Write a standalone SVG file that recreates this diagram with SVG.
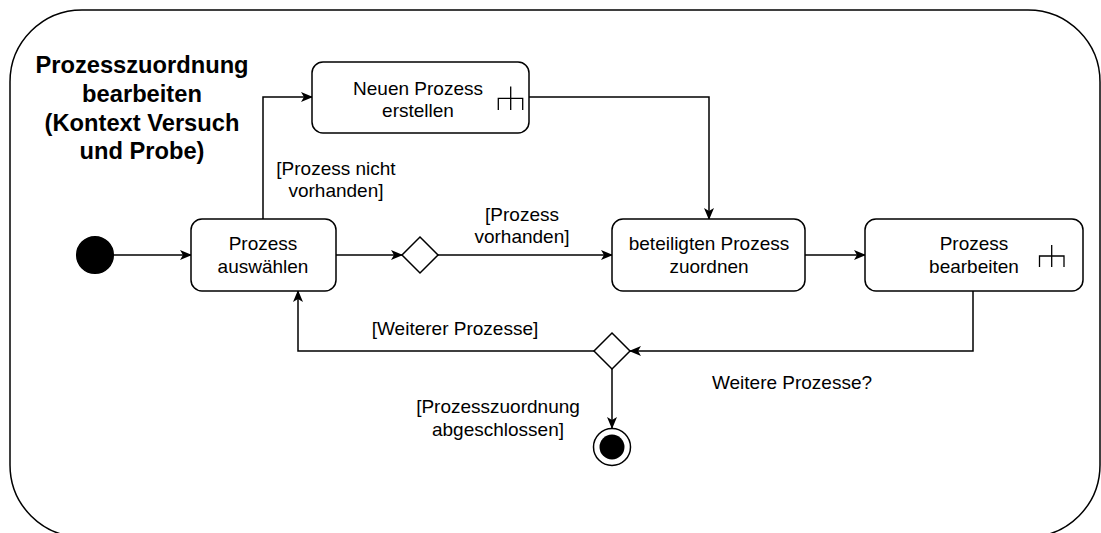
<svg xmlns="http://www.w3.org/2000/svg" width="1101" height="533" viewBox="0 0 1101 533">
  <style>
    .frame { fill: #ffffff; stroke: #000000; stroke-width: 1.5; }
    .action { fill: #ffffff; stroke: #000000; stroke-width: 1.5; }
    .icon { fill: none; stroke: #000000; stroke-width: 1.3; }
    .edge { fill: none; stroke: #000000; stroke-width: 1.5; }
    .txt { font-family: "Liberation Sans", Arial, Helvetica, sans-serif; font-size: 19px; fill: #000000; text-anchor: middle; }
    .title { font-family: "Liberation Sans", Arial, Helvetica, sans-serif; font-size: 23.7px; font-weight: bold; fill: #000000; text-anchor: middle; }
  </style>
  <defs>
    <marker id="arrow" viewBox="0 0 12 10" refX="11" refY="5" markerWidth="12" markerHeight="10" markerUnits="userSpaceOnUse" orient="auto">
      <path d="M0,0 L12,5 L0,10 L3,5 Z" fill="#000000"/>
    </marker>
  </defs>

  <!-- activity frame -->
  <g id="frame">
    <rect class="frame" x="10" y="10" width="1090" height="527" rx="72" ry="72"/>
    <text class="title" x="142" y="73">Prozesszuordnung</text>
    <text class="title" x="142" y="102">bearbeiten</text>
    <text class="title" x="142" y="131">(Kontext Versuch</text>
    <text class="title" x="142" y="159">und Probe)</text>
  </g>

  <!-- connectors -->
  <g id="connectors">
    <path class="edge" d="M113,255 L191,255" marker-end="url(#arrow)"/>
    <path class="edge" d="M336,255 L402,255" marker-end="url(#arrow)"/>
    <path class="edge" d="M438,255 L612,255" marker-end="url(#arrow)"/>
    <path class="edge" d="M263,219 L263,97 L312,97" marker-end="url(#arrow)"/>
    <path class="edge" d="M529,97 L709,97 L709,219" marker-end="url(#arrow)"/>
    <path class="edge" d="M805,255 L865,255" marker-end="url(#arrow)"/>
    <path class="edge" d="M973,291 L973,351 L630,351" marker-end="url(#arrow)"/>
    <path class="edge" d="M594,351 L298,351 L298,291" marker-end="url(#arrow)"/>
    <path class="edge" d="M612,369 L612,428" marker-end="url(#arrow)"/>
    <text class="txt" x="336" y="175">[Prozess nicht</text>
    <text class="txt" x="336" y="197">vorhanden]</text>
    <text class="txt" x="522" y="221">[Prozess</text>
    <text class="txt" x="522" y="243">vorhanden]</text>
    <text class="txt" x="455" y="335">[Weiterer Prozesse]</text>
    <text class="txt" x="792" y="389">Weitere Prozesse?</text>
    <text class="txt" x="498" y="413">[Prozesszuordnung</text>
    <text class="txt" x="498" y="436">abgeschlossen]</text>
  </g>

  <g id="start">
    <circle cx="95" cy="255" r="18.3" fill="#000000" stroke="#000000" stroke-width="1.5"/>
  </g>

  <g id="prozess-auswaehlen">
    <rect class="action" x="191" y="219" width="145" height="72" rx="11" ry="11"/>
    <text class="txt" x="263" y="250">Prozess</text>
    <text class="txt" x="263" y="273">auswählen</text>
  </g>

  <g id="decision-vorhanden">
    <path class="action" d="M420,237 L438,255 L420,273 L402,255 Z"/>
  </g>

  <g id="neuen-prozess-erstellen">
    <rect class="action" x="312" y="62" width="217" height="71" rx="11" ry="11"/>
    <text class="txt" x="418" y="95">Neuen Prozess</text>
    <text class="txt" x="418" y="117">erstellen</text>
    <path class="icon" d="M510.7,86.5 V110 M498.3,110 V98.3 H522.7 V110"/>
  </g>

  <g id="beteiligten-prozess-zuordnen">
    <rect class="action" x="612" y="219" width="193" height="72" rx="11" ry="11"/>
    <text class="txt" x="709" y="250">beteiligten Prozess</text>
    <text class="txt" x="709" y="273">zuordnen</text>
  </g>

  <g id="prozess-bearbeiten">
    <rect class="action" x="865" y="219" width="218" height="72" rx="11" ry="11"/>
    <text class="txt" x="974" y="250">Prozess</text>
    <text class="txt" x="974" y="273">bearbeiten</text>
    <path class="icon" d="M1051.7,245 V267 M1039.5,267 V256 H1064 V267"/>
  </g>

  <g id="decision-weitere">
    <path class="action" d="M612,333 L630,351 L612,369 L594,351 Z"/>
  </g>

  <g id="end">
    <circle cx="612" cy="447" r="18.5" fill="#ffffff" stroke="#000000" stroke-width="1.5"/>
    <circle cx="612" cy="447" r="12.5" fill="#000000"/>
  </g>
</svg>
